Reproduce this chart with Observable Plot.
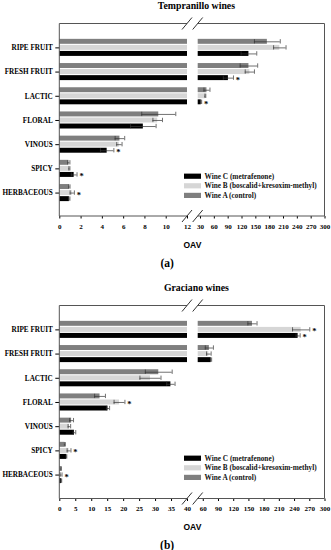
<!DOCTYPE html>
<html><head><meta charset="utf-8">
<script src="https://cdn.jsdelivr.net/npm/d3@7"></script>
<script src="https://cdn.jsdelivr.net/npm/@observablehq/plot@0.6"></script>
<style>body{margin:0;background:#fff;} svg{display:block;}</style>
</head><body><div id="chart"></div>
<script>
// ---- data ----
const categories = ["RIPE FRUIT","FRESH FRUIT","LACTIC","FLORAL","VINOUS","SPICY","HERBACEOUS"];
const wineKeys = ["A","B","C"];
const wineLegend = ["Wine C (metrafenone)","Wine B (boscalid+kresoxim-methyl)","Wine A (control)"];
const legendKeys = ["C","B","A"];
const wineColors = ["#7f7f7f","#d6d6d6","#000000"];

// Tempranillo
const tempTitle = "Tempranillo wines";
const tempA    = [175, 135, 44, 9.3, 5.65, 0.85, 0.9];
const tempAErr = [28, 19, 6.5, 1.6, 0.45, 0.1, 0.06];
const tempB    = [202, 137, 40.5, 9.2, 5.6, 0.9, 1.17];
const tempBErr = [13.5, 10, 1, 0.45, 0.25, 0.05, 0.2];
const tempC    = [135, 90.5, 31.5, 7.85, 4.45, 1.35, 0.9];
const tempCErr = [17, 11, 1, 1.2, 0.63, 0.27, 0.05];
const tempSig  = ["FRESH FRUIT|C","LACTIC|C","VINOUS|C","SPICY|C","HERBACEOUS|B"];
const tempTicks = [0,2,4,6,8,10,12,30,60,90,120,150,180,210,240,270,300];
const tempBreak = [12, 25];

// Graciano
const gracTitle = "Graciano wines";
const gracA    = [157, 72, 31, 12.6, 3.7, 1.6, 0.4];
const gracAErr = [9, 8, 4.2, 1.7, 0.6, 0.15, 0.1];
const gracB    = [253, 71, 28.4, 18.7, 3.0, 2.9, 0.4];
const gracBErr = [17, 4.5, 3.3, 1.7, 0.4, 0.6, 0.3];
const gracC    = [247, 75.5, 34.8, 15.1, 4.6, 2.1, 0.5];
const gracCErr = [4, 1, 1.3, 0.5, 0.4, 0.1, 0.1];
const gracSig  = ["RIPE FRUIT|B","RIPE FRUIT|C","FLORAL|B","SPICY|B","HERBACEOUS|B"];
const gracTicks = [0,5,10,15,20,25,30,35,40,60,90,120,150,180,210,240,270,300];
const gracBreak = [40, 50];
const xMax = 300;

// broken-axis widths (pixel share of each piece)
const W0 = 127.7, G = 10.7, W1 = 126.8;

function panel({title, tag, vals, errs, sig, ticks, brk, height, marginBottom}) {
  const rows = [];
  categories.forEach((c, i) => wineKeys.forEach((w, j) => {
    const key = c + "|" + w;
    rows.push({cat: c, wine: w, key, v: vals[j][i], e: errs[j][i], sig: sig.includes(key)});
  }));
  const segs = [];
  for (const r of rows) {
    segs.push({...r, x1: 0, x2: Math.min(r.v, brk[0])});
    if (r.v > brk[1]) segs.push({...r, x1: brk[1], x2: r.v});
  }
  const yDomain = categories.flatMap(c => [c+"|A", c+"|B", c+"|C", c+"|gap"]);

  // piecewise (broken) axis transform
  const brokenT = v => v <= brk[0] ? v / brk[0] * W0
    : v < brk[1] ? W0 + (v - brk[0]) / (brk[1] - brk[0]) * G
    : W0 + G + (v - brk[1]) / (xMax - brk[1]) * W1;
  const tickPos = ticks.map(brokenT);
  const tickLabel = new Map(ticks.map((t, i) => [tickPos[i], String(t)]));

  const frameMark = (index, scales, values, dims) => {
    const x = scales.x;
    const L = dims.marginLeft, R = dims.width - dims.marginRight;
    const T = dims.marginTop, B = dims.height - dims.marginBottom;
    const a = x(brokenT(brk[0])), b = x(brokenT(brk[1]));
    const g = d3.create("svg:g").attr("fill", "none").attr("stroke", "#555").attr("stroke-width", 1);
    g.append("path").attr("d", `M${a},${T}H${L}V${B}H${a}M${b},${T}H${R}V${B}H${b}`);
    for (const y of [T, B]) for (const cx of [a, b]) {
      g.append("line").attr("x1", cx - 5).attr("y1", y + 6).attr("x2", cx + 5).attr("y2", y - 6).attr("stroke", "#333");
    }
    return g.node();
  };
  const legendMark = (index, scales, values, dims) => {
    const T = dims.marginTop;
    const g = d3.create("svg:g").attr("text-anchor", "start");
    legendKeys.forEach((k, i) => {
      const y = T + 152.7 + i * 9.6;
      g.append("rect").attr("x", 184).attr("y", y - 2.6).attr("width", 17).attr("height", 5.2)
        .attr("fill", wineColors[wineKeys.indexOf(k)]);
      g.append("text").attr("x", 204.5).attr("y", y).attr("dy", "0.35em")
        .attr("font-size", 7.3).attr("fill", "#111").text(wineLegend[i]);
    });
    return g.node();
  };

  return Plot.plot({
    width: 331, height,
    marginLeft: 59.3, marginRight: 6.5, marginTop: 23.5, marginBottom,
    style: {fontFamily: "'Liberation Serif', 'Times New Roman', serif", fontWeight: "bold", fontSize: "7.2px", color: "#000", background: "#fff"},
    x: {type: "linear", transform: brokenT, nice: false},
    y: {type: "band", domain: yDomain, range: [38.3, 207.7], paddingInner: 0.18, paddingOuter: 0.09, round: false},
    color: {domain: wineKeys, range: wineColors},
    marks: [
      Plot.ruleX([0, xMax], {strokeOpacity: 0}),
      Plot.barX(segs, {x1: "x1", x2: "x2", y: "key", fill: "wine"}),
      Plot.ruleY(rows, {y: "key", x1: d => d.v - d.e, x2: d => d.v + d.e, stroke: "#333", strokeWidth: 0.7}),
      Plot.tickX(rows, {y: "key", x: d => d.v - d.e, stroke: "#333", strokeWidth: 0.7, insetTop: 0.3, insetBottom: 0.3}),
      Plot.tickX(rows, {y: "key", x: d => d.v + d.e, stroke: "#333", strokeWidth: 0.7, insetTop: 0.3, insetBottom: 0.3}),
      Plot.text(rows.filter(d => d.sig), {y: "key", x: d => d.v + d.e, text: () => "*", dx: 4.5, dy: 1.8, fontSize: 8.5}),
      Plot.axisY({ticks: categories.map(c => c + "|B"), tickFormat: d => d.split("|")[0], tickSize: 4, tickPadding: 3, label: null, fontSize: 7.2}),
      Plot.axisX({ticks: tickPos, tickFormat: t => tickLabel.get(t), tickSize: 2.5, tickPadding: 5, label: null, fontSize: 7}),
      frameMark,
      legendMark,
      Plot.text([title], {text: d => d, frameAnchor: "top", dx: 4, dy: -18.5, lineAnchor: "middle", fontSize: 9.8}),
      Plot.text(["OAV"], {text: d => d, frameAnchor: "bottom", dy: 28.3, lineAnchor: "middle", fontSize: 8.5, fontFamily: "'Liberation Sans', Arial, sans-serif"}),
      Plot.text([tag], {text: d => d, frameAnchor: "bottom", dx: -25.3, dy: 46.5, lineAnchor: "middle", fontSize: 11.5})
    ]
  });
}

const chart = document.getElementById("chart");
chart.append(panel({title: tempTitle, tag: "(a)", vals: [tempA, tempB, tempC], errs: [tempAErr, tempBErr, tempCErr],
  sig: tempSig, ticks: tempTicks, brk: tempBreak, height: 282, marginBottom: 66}));
chart.append(panel({title: gracTitle, tag: "(b)", vals: [gracA, gracB, gracC], errs: [gracAErr, gracBErr, gracCErr],
  sig: gracSig, ticks: gracTicks, brk: gracBreak, height: 268, marginBottom: 51.5}));
</script>
</body></html>
